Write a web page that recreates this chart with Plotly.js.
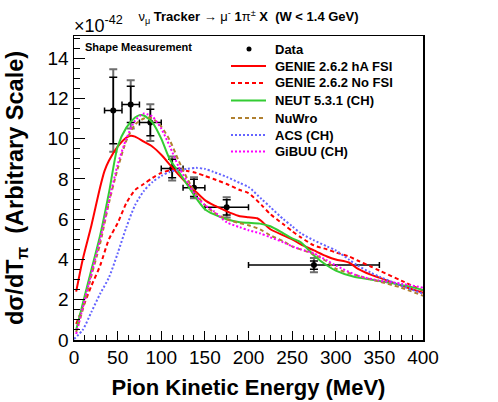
<!DOCTYPE html>
<html>
<head>
<meta charset="utf-8">
<script src="https://cdn.plot.ly/plotly-3.0.1.min.js"></script>
<style>html,body{margin:0;padding:0;background:#fff;}#chart{width:498px;height:402px;}</style>
</head>
<body>
<div id="chart"></div>
<script>
// ---- Data ----
const dataX      = [45, 65, 87.5, 112.5, 137.5, 175, 275];
const dataXLow   = [10, 10, 12.5, 12.5, 12.5, 25, 75];
const dataY      = [11.4, 11.7, 10.8, 8.52, 7.56, 6.59, 3.72];
const dataStat   = [1.65, 0.9, 0.66, 0.46, 0.43, 0.38, 0.2];
const dataTotal  = [2.05, 1.2, 0.91, 0.6, 0.52, 0.5, 0.35];

const genieHA_x = [2.5, 10, 20, 30, 35, 40, 50, 60, 65, 70, 80, 90, 100, 110, 120, 130, 140, 150, 160, 170, 180, 190, 200, 210, 215, 225, 240, 250, 260, 275, 290, 300, 315, 325, 340, 350, 375, 400];
const genieHA_y = [2.4, 4.0, 5.7, 7.6, 8.4, 8.9, 9.6, 10.05, 10.15, 10.1, 9.85, 9.6, 9.2, 8.7, 8.2, 7.75, 7.35, 6.95, 6.7, 6.5, 6.3, 6.15, 6.1, 6.05, 5.9, 5.5, 5.2, 5.0, 4.75, 4.45, 4.15, 4.0, 3.85, 3.55, 3.25, 3.1, 2.7, 2.35];

const genieNo_x = [2.5, 10, 20, 30, 40, 50, 60, 70, 80, 90, 100, 110, 120, 130, 140, 150, 160, 175, 190, 200, 215, 225, 240, 250, 260, 275, 290, 300, 315, 325, 340, 350, 375, 400];
const genieNo_y = [0.8, 1.6, 2.7, 3.7, 5.0, 5.8, 6.8, 7.45, 7.75, 8.05, 8.3, 8.43, 8.45, 8.4, 8.3, 8.15, 8.0, 7.75, 7.45, 7.3, 6.7, 6.25, 5.75, 5.4, 5.1, 4.7, 4.5, 4.35, 4.15, 3.95, 3.65, 3.45, 2.95, 2.45];

const neut_x = [2.5, 10, 20, 30, 40, 50, 60, 70, 75, 80, 90, 100, 110, 120, 130, 140, 150, 160, 175, 190, 200, 213, 225, 240, 250, 260, 275, 290, 300, 320, 340, 360, 380, 400];
const neut_y = [0.5, 1.8, 3.5, 5.2, 7.3, 9.6, 10.55, 11.05, 11.17, 11.15, 10.8, 10.0, 8.95, 8.35, 7.7, 7.05, 6.5, 6.25, 6.0, 5.85, 5.82, 5.78, 5.65, 5.3, 5.05, 4.85, 4.2, 3.7, 3.45, 3.15, 3.0, 2.85, 2.7, 2.48];

const nuwro_x = [2.5, 10, 20, 30, 40, 50, 60, 70, 80, 85, 90, 100, 110, 120, 130, 140, 150, 160, 175, 190, 200, 213, 225, 240, 250, 260, 275, 290, 300, 325, 350, 375, 400];
const nuwro_y = [0.4, 1.5, 3.2, 4.8, 6.8, 8.5, 9.9, 10.7, 11.0, 11.05, 11.0, 10.6, 9.9, 8.9, 8.0, 7.25, 6.7, 6.35, 6.0, 5.8, 5.7, 5.5, 5.2, 4.9, 4.65, 4.5, 4.25, 3.9, 3.55, 3.2, 2.9, 2.6, 2.2];

const acs_x = [0, 10, 20, 30, 40, 50, 60, 70, 80, 90, 100, 110, 120, 130, 140, 150, 160, 175, 190, 200, 215, 225, 240, 250, 260, 275, 290, 300, 315, 325, 340, 350, 375, 400];
const acs_y = [0.05, 0.5, 1.4, 2.3, 3.1, 4.3, 5.6, 6.7, 7.4, 7.85, 8.15, 8.35, 8.45, 8.5, 8.55, 8.5, 8.35, 8.1, 7.8, 7.6, 7.0, 6.6, 6.0, 5.65, 5.3, 4.95, 4.65, 4.45, 4.0, 3.7, 3.35, 3.15, 2.7, 2.3];

const gibuu_x = [2.5, 10, 20, 30, 40, 50, 60, 70, 80, 85, 90, 100, 110, 120, 130, 140, 150, 160, 175, 190, 200, 213, 225, 240, 250, 260, 275, 290, 300, 325, 350, 375, 400];
const gibuu_y = [0.3, 1.6, 3.3, 5.0, 6.9, 8.7, 10.0, 10.9, 11.25, 11.2, 11.1, 10.5, 9.6, 8.6, 7.85, 7.15, 6.7, 6.4, 5.85, 5.6, 5.45, 5.3, 5.1, 4.85, 4.65, 4.5, 4.3, 3.95, 3.7, 3.2, 2.95, 2.8, 2.6];

const xTickVals = [0, 50, 100, 150, 200, 250, 300, 350, 400];
const yTickVals = [0, 2, 4, 6, 8, 10, 12, 14];

const seriesNames  = ['GENIE 2.6.2 hA FSI', 'GENIE 2.6.2 No FSI', 'NEUT 5.3.1 (CH)', 'NuWro', 'ACS (CH)', 'GiBUU (CH)'];
const seriesColors = ['#ff0000', '#ff0000', '#33cc33', '#b08030', '#6464ff', '#ff00ff'];
const seriesDashes = ['solid', '4px,3px', 'solid', '4px,3px', '2px,2px', '2px,2px'];
const seriesX = [genieHA_x, genieNo_x, neut_x, nuwro_x, acs_x, gibuu_x];
const seriesY = [genieHA_y, genieNo_y, neut_y, nuwro_y, acs_y, gibuu_y];

// ---- Traces ----
const traces = [
  {x: dataX, y: dataY, type: 'scatter', mode: 'markers', showlegend: false, hoverinfo: 'skip',
   marker: {size: 1, color: 'rgba(0,0,0,0)'},
   error_y: {type: 'data', array: dataTotal, color: '#6e6e6e', thickness: 2, width: 4}},
  {x: dataX, y: dataY, type: 'scatter', mode: 'markers', name: 'Data', showlegend: false,
   marker: {size: 6, color: '#000'},
   error_y: {type: 'data', array: dataStat, color: '#000', thickness: 1.5, width: 4},
   error_x: {type: 'data', array: dataXLow, color: '#000', thickness: 1.5, width: 3}}
];
seriesNames.forEach((n, i) => {
  traces.push({x: seriesX[i], y: seriesY[i], type: 'scatter', mode: 'lines', name: n, showlegend: false,
               line: {color: seriesColors[i], width: 2, dash: seriesDashes[i], shape: 'spline', smoothing: 0.7}});
});

const FONT = 'Liberation Sans, Arial, Helvetica, sans-serif';

// ---- Legend drawn as shapes + annotations (plot frame: x 74..423 px, y 36..340 px) ----
const PL = 74, PW = 349, PB = 340, PH = 304;
const px2x = p => (p - PL) / PW;
const px2y = p => (PB - p) / PH;
const legendRowsPx = [49, 66, 83, 100.5, 118, 135, 151.5];
const legendLabels = ['Data'].concat(seriesNames);
const shapes = [];
const annotations = [];
legendLabels.forEach((lab, k) => {
  const yy = px2y(legendRowsPx[k]);
  if (k === 0) {
    shapes.push({type: 'circle', xref: 'paper', yref: 'paper', xsizemode: 'pixel', ysizemode: 'pixel',
                 xanchor: px2x(249), yanchor: yy, x0: -2.5, x1: 2.5, y0: -2.5, y1: 2.5,
                 fillcolor: '#000', line: {width: 0}});
  } else {
    shapes.push({type: 'line', xref: 'paper', yref: 'paper', x0: px2x(231), x1: px2x(266), y0: yy, y1: yy,
                 line: {color: seriesColors[k - 1], width: 2, dash: seriesDashes[k - 1]}});
  }
  annotations.push({text: '<b>' + lab + '</b>', xref: 'paper', yref: 'paper', x: px2x(273), y: yy,
                    xanchor: 'left', yanchor: 'middle', showarrow: false,
                    font: {family: FONT, size: 13, color: '#000'}});
});
annotations.push({text: '×10<sup>-42</sup>', xref: 'paper', yref: 'paper', x: 0, y: 1, xanchor: 'left', yanchor: 'bottom',
                  showarrow: false, font: {family: FONT, size: 18, color: '#000'}, xshift: -2, yshift: -2});
annotations.push({text: '<b>Shape Measurement</b>', xref: 'paper', yref: 'paper', x: px2x(83), y: px2y(47), xanchor: 'left', yanchor: 'middle',
                  showarrow: false, font: {family: FONT, size: 11, color: '#000'}});

const layout = {
  width: 498, height: 402,
  margin: {l: 74, r: 75, t: 36, b: 62, pad: 0},
  paper_bgcolor: '#fff', plot_bgcolor: '#fff',
  font: {family: FONT, color: '#000'},
  title: {text: 'ν<sub>μ</sub> <b>Tracker</b> → μ<sup>-</sup> <b>1</b>π<sup>±</sup> <b>X\u00a0\u00a0(W &lt; 1.4 GeV)</b>',
          font: {family: FONT, size: 13, color: '#000'},
          x: 0.5, xref: 'paper', xanchor: 'center', y: 0.958, yref: 'container', yanchor: 'middle'},
  xaxis: {range: [0, 400], tickvals: xTickVals, ticktext: xTickVals.map(String),
          ticks: 'inside', ticklen: 9, tickwidth: 1, tickcolor: '#000',
          minor: {dtick: 12.5, ticks: 'inside', ticklen: 5, tickcolor: '#000', tickwidth: 1, showgrid: false},
          showgrid: false, zeroline: false, showline: true, mirror: true, linecolor: '#000', linewidth: 1.5,
          tickfont: {family: FONT, size: 19, color: '#000'},
          title: {text: '<b>Pion Kinetic Energy (MeV)</b>', font: {family: FONT, size: 22, color: '#000'}, standoff: 12},
          automargin: false, fixedrange: true},
  yaxis: {range: [0, 15.1], tickvals: yTickVals, ticktext: yTickVals.map(String),
          ticks: 'inside', ticklen: 11, tickwidth: 1, tickcolor: '#000',
          minor: {dtick: 0.5, ticks: 'inside', ticklen: 6, tickcolor: '#000', tickwidth: 1, showgrid: false},
          showgrid: false, zeroline: false, showline: true, mirror: true, linecolor: '#000', linewidth: 1.5,
          tickfont: {family: FONT, size: 19, color: '#000'},
          title: {text: '<b>dσ/dT<sub>π</sub>\u00a0\u00a0(Arbitrary Scale)</b>', font: {family: FONT, size: 23.5, color: '#000'}, standoff: 17},
          automargin: false, fixedrange: true},
  shapes: shapes,
  annotations: annotations,
  showlegend: false
};

Plotly.newPlot('chart', traces, layout, {staticPlot: true, displayModeBar: false});
</script>
</body>
</html>
